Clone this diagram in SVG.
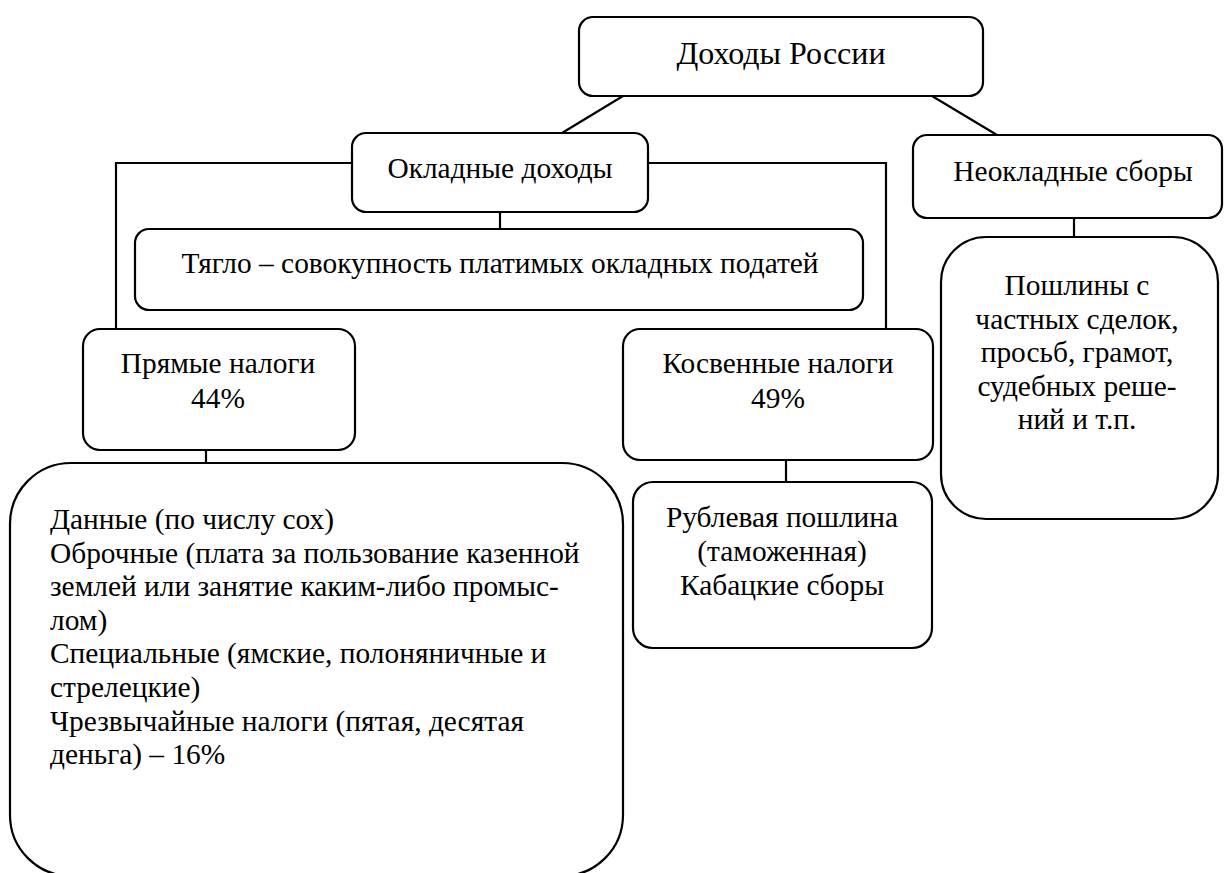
<svg xmlns="http://www.w3.org/2000/svg" width="1224" height="873" viewBox="0 0 1224 873">
<style>
.b{fill:#fff;stroke:#000;stroke-width:2.2}
.c{fill:none;stroke:#000;stroke-width:2.2}
.m{text-anchor:middle}
</style>
<rect width="1224" height="873" fill="#fff"/>
<g id="connectors">
<line class="c" x1="623" y1="96" x2="562" y2="133"/>
<line class="c" x1="932" y1="96" x2="997" y2="135"/>
<polyline class="c" points="352,163 116,163 116,329"/>
<polyline class="c" points="648,163 886,163 886,329"/>
<line class="c" x1="500" y1="212" x2="500" y2="229"/>
<line class="c" x1="206" y1="450" x2="206" y2="463"/>
<line class="c" x1="786" y1="460" x2="786" y2="482"/>
<line class="c" x1="1074" y1="218" x2="1074" y2="237"/>
</g>
<g font-family="'Liberation Serif', 'Times New Roman', serif" font-size="29.4" fill="#000">
<g id="n-top">
<rect class="b" x="579" y="17" width="404" height="79" rx="14"/>
<text class="m" x="781" y="64" font-size="32">Доходы России</text>
</g>
<g id="n-okl">
<rect class="b" x="352" y="133" width="296" height="79" rx="14"/>
<text class="m" x="500" y="178">Окладные доходы</text>
</g>
<g id="n-neokl">
<rect class="b" x="913" y="135" width="309" height="83" rx="14"/>
<text class="m" x="1073" y="181">Неокладные сборы</text>
</g>
<g id="n-tyaglo">
<rect class="b" x="135" y="229" width="728" height="81" rx="14"/>
<text class="m" x="500" y="273">Тягло – совокупность платимых окладных податей</text>
</g>
<g id="n-pryamye">
<rect class="b" x="83" y="329" width="272" height="121" rx="17"/>
<text class="m" x="218" y="373">Прямые налоги</text>
<text class="m" x="218" y="408">44%</text>
</g>
<g id="n-kosv">
<rect class="b" x="623" y="329" width="310" height="131" rx="17"/>
<text class="m" x="778" y="373">Косвенные налоги</text>
<text class="m" x="778" y="408">49%</text>
</g>
<g id="n-big">
<rect class="b" x="10" y="463" width="613" height="413" rx="61"/>
<text x="50" y="529">Данные (по числу сох)</text>
<text x="50" y="562.6">Оброчные (плата за пользование казенной</text>
<text x="50" y="596.2">землей или занятие каким-либо промыс-</text>
<text x="50" y="629.8">лом)</text>
<text x="50" y="663.4">Специальные (ямские, полоняничные и</text>
<text x="50" y="697">стрелецкие)</text>
<text x="50" y="730.6">Чрезвычайные налоги (пятая, десятая</text>
<text x="50" y="764.2">деньга) – 16%</text>
</g>
<g id="n-rubl">
<rect class="b" x="633" y="482" width="299" height="166" rx="20"/>
<text class="m" x="782" y="527">Рублевая пошлина</text>
<text class="m" x="782" y="561">(таможенная)</text>
<text class="m" x="782" y="595">Кабацкие сборы</text>
</g>
<g id="n-poshl">
<rect class="b" x="941" y="237" width="277" height="282" rx="45"/>
<text class="m" x="1077" y="295">Пошлины с</text>
<text class="m" x="1077" y="328.5">частных сделок,</text>
<text class="m" x="1077" y="362">просьб, грамот,</text>
<text class="m" x="1077" y="395.5">судебных реше-</text>
<text class="m" x="1077" y="429">ний и т.п.</text>
</g>
</g>
</svg>
